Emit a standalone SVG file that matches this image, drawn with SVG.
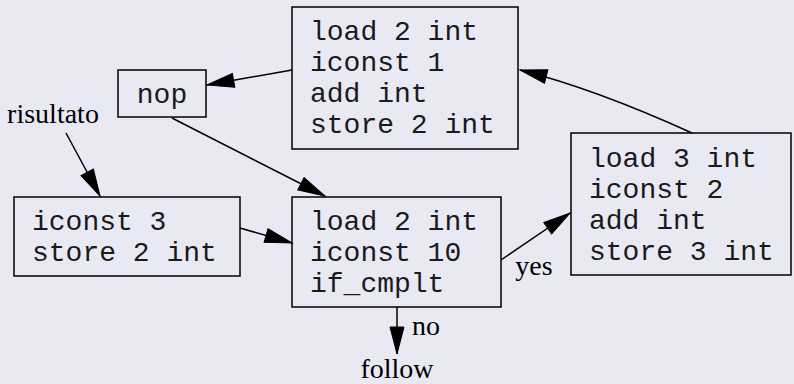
<svg xmlns="http://www.w3.org/2000/svg" width="794" height="384" viewBox="0 0 794 384">
  <style>
    .box { fill: none; stroke: #000; stroke-width: 1.5; }
    .code { font-family: "Liberation Mono", "Courier New", monospace; font-size: 28px; fill: #1a1a1a; }
    .lbl { font-family: "Liberation Serif", "Times New Roman", serif; font-size: 28px; fill: #000; }
    .edge { fill: none; stroke: #000; stroke-width: 1.5; marker-end: url(#arrow); }
  </style>
  <defs>
    <marker id="arrow" markerUnits="userSpaceOnUse" viewBox="0 -8 30 16" refX="28" refY="0" markerWidth="30" markerHeight="16" orient="auto">
      <path d="M1,-7 L28,0 L1,7 Z" fill="#000" stroke="#000" stroke-width="1"/>
    </marker>
  </defs>
  <rect width="794" height="384" fill="#e9e9f3"/>

  <g id="loop_body">
    <rect class="box" x="292" y="7" width="226" height="142"/>
    <text class="code" x="310" y="40">load 2 int</text>
    <text class="code" x="310" y="71">iconst 1</text>
    <text class="code" x="310" y="102">add int</text>
    <text class="code" x="310" y="133">store 2 int</text>
  </g>

  <g id="nop">
    <rect class="box" x="118" y="70" width="88" height="47"/>
    <text class="code" x="162" y="103" text-anchor="middle">nop</text>
  </g>

  <g id="risultato">
    <text class="lbl" x="53" y="123" text-anchor="middle">risultato</text>
  </g>

  <g id="init">
    <rect class="box" x="14" y="197" width="226" height="79"/>
    <text class="code" x="32" y="230">iconst 3</text>
    <text class="code" x="32" y="261">store 2 int</text>
  </g>

  <g id="test">
    <rect class="box" x="292" y="197" width="209" height="110"/>
    <text class="code" x="310" y="230">load 2 int</text>
    <text class="code" x="310" y="261">iconst 10</text>
    <text class="code" x="310" y="292">if_cmplt</text>
  </g>

  <g id="increment">
    <rect class="box" x="571" y="133" width="220" height="142"/>
    <text class="code" x="589" y="167">load 3 int</text>
    <text class="code" x="589" y="198">iconst 2</text>
    <text class="code" x="589" y="229">add int</text>
    <text class="code" x="589" y="260">store 3 int</text>
  </g>

  <g id="follow">
    <text class="lbl" x="397" y="378" text-anchor="middle">follow</text>
  </g>

  <g id="edges">
    <path class="edge" d="M292,70 L207,85"/>
    <path class="edge" d="M172,118 L325,196"/>
    <path class="edge" d="M66,133 L100,196"/>
    <path class="edge" d="M240,228 L292,243"/>
    <path class="edge" d="M501,260 L570,213"/>
    <path class="edge" d="M692,133 Q594,88.5 520,70"/>
    <path class="edge" d="M397,307 L397,354"/>
    <text class="lbl" x="534" y="275" text-anchor="middle">yes</text>
    <text class="lbl" x="426" y="335" text-anchor="middle">no</text>
  </g>
</svg>
